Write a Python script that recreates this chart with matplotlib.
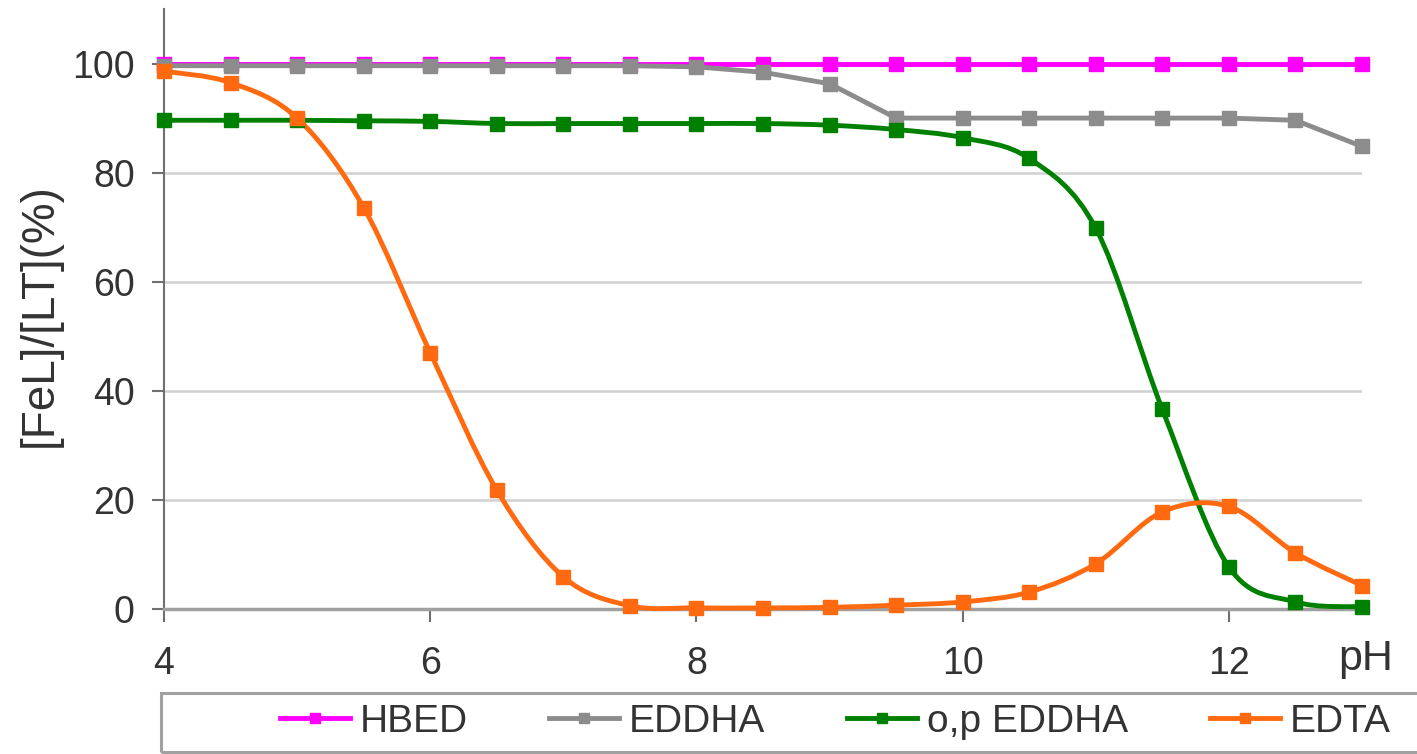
import numpy as np
import matplotlib
matplotlib.use('Agg')
import matplotlib.pyplot as plt
from matplotlib.path import Path
from matplotlib.patches import PathPatch, Rectangle
from matplotlib.lines import Line2D

plt.rcParams['font.family'] = ['Liberation Sans', 'DejaVu Sans']

# pH values (x)
ph = [4, 4.5, 5, 5.5, 6, 6.5, 7, 7.5, 8, 8.5, 9, 9.5, 10, 10.5, 11, 11.5, 12, 12.5, 13]

# [FeL]/[LT] (%) for each chelate
hbed = [100, 100, 100, 100, 100, 100, 100, 100, 100, 100, 100, 100, 100, 100, 100, 100, 100, 100, 100]
eddha = [99.6, 99.6, 99.6, 99.6, 99.6, 99.6, 99.6, 99.6, 99.4, 98.4, 96.3, 90, 90, 90, 90, 90, 90, 89.6, 84.8]
op_eddha = [89.6, 89.6, 89.6, 89.5, 89.4, 89, 89, 89, 89, 89, 88.7, 87.9, 86.4, 82.6, 69.8, 36.6, 7.7, 1.3, 0.4]
edta = [98.6, 96.5, 90, 73.6, 47, 21.8, 5.9, 0.6, 0.2, 0.2, 0.3, 0.7, 1.3, 3.1, 8.3, 17.8, 18.8, 10.3, 4.3]

labels = ['HBED', 'EDDHA', 'o,p EDDHA', 'EDTA']
colors = ['#FF00FF', '#8C8C8C', '#008000', '#FF6A10']


# Excel-like smoothed line: Catmull-Rom segments as cubic Bezier curves
def smooth_path(x, y):
    pts = np.column_stack([x, y]).astype(float)
    n = len(pts)
    verts = [pts[0]]
    codes = [Path.MOVETO]
    for i in range(n - 1):
        p0 = pts[max(i - 1, 0)]
        p1 = pts[i]
        p2 = pts[i + 1]
        p3 = pts[min(i + 2, n - 1)]
        verts += [p1 + (p2 - p0) / 6, p2 - (p3 - p1) / 6, p2]
        codes += [Path.CURVE4] * 3
    return Path(verts, codes)


fig = plt.figure(figsize=(14.17, 7.54), dpi=100)
ax = fig.add_axes([164 / 1417, 1 - 609 / 754, (1362 - 164) / 1417, (609 - 9) / 754])

lw = 3.5
ms = 10
series = [(hbed, False), (eddha, False), (op_eddha, True), (edta, True)]
for (vals, smooth), col in zip(series, colors):
    if smooth:
        ax.add_patch(PathPatch(smooth_path(ph, vals), facecolor='none', edgecolor=col,
                               lw=lw, capstyle='round', joinstyle='round', zorder=3, clip_on=False))
        ax.plot(ph, vals, ls='none', marker='s', ms=ms, color=col, zorder=4, clip_on=False)
    else:
        ax.plot(ph, vals, ls='-', lw=lw, marker='s', ms=ms, color=col, zorder=3, clip_on=False)

ax.set_xlim(4, 13)
ax.set_ylim(0, 110)
ax.set_xticks([4, 6, 8, 10, 12])
ax.set_yticks([0, 20, 40, 60, 80, 100])
ax.yaxis.grid(True, color='#D0D0D0', lw=1.8)
ax.set_axisbelow(True)

for s in ['top', 'right']:
    ax.spines[s].set_visible(False)
ax.spines['left'].set_color('#707070')
ax.spines['left'].set_linewidth(1.5)
ax.spines['bottom'].set_color('#A0A0A0')
ax.spines['bottom'].set_linewidth(2.5)

ax.tick_params(axis='both', length=9, width=1.5, color='#707070', labelsize=27, labelcolor='#333333')
ax.tick_params(axis='x', pad=18)
ax.tick_params(axis='y', pad=12)

fig.text(40 / 1417, 1 - 315 / 754, '[FeL]/[LT](%)', rotation=90, ha='center', va='center',
         fontsize=33, color='#333333')
fig.text(1366 / 1417, 1 - 670 / 754, 'pH', ha='center', va='baseline', fontsize=31, color='#333333')

# legend box below the plot
fig.add_artist(Rectangle((161 / 1417, 1 - 752 / 754), (1440 - 161) / 1417, 59 / 754,
                         transform=fig.transFigure, fill=False, edgecolor='#A0A0A0', lw=2.2))
handles = [Line2D([], [], color=c, lw=lw, marker='s', ms=7) for c in colors]
fig.legend(handles, labels, loc='center', bbox_to_anchor=(835 / 1417, 1 - 722 / 754), ncol=4,
           frameon=False, fontsize=28, handlelength=1.8, handletextpad=0.25, columnspacing=2.1,
           labelcolor='#333333')

fig.savefig('out.png', dpi=100)
